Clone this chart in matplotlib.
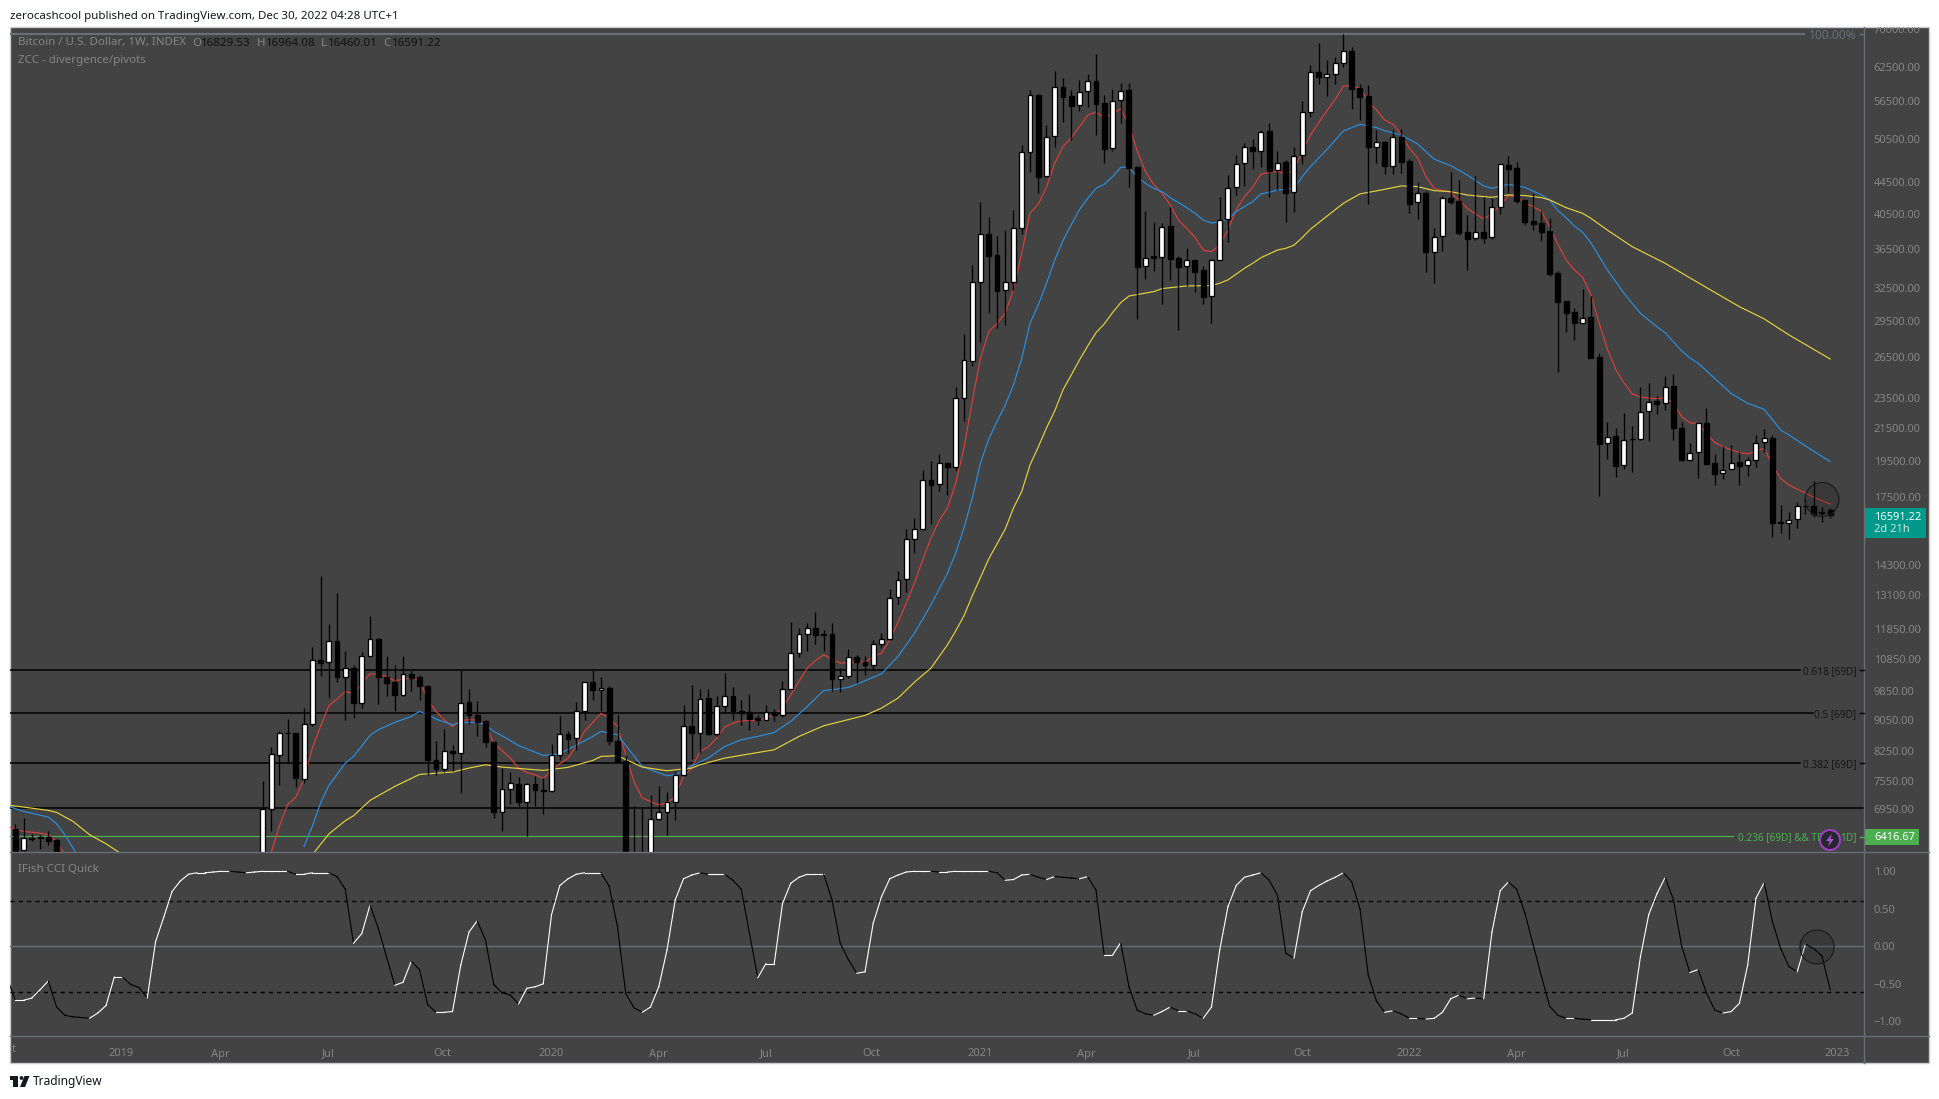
#!/usr/bin/env python3.12
"""BTC weekly candles with moving averages, fib levels and an IFish CCI pane."""

import matplotlib
matplotlib.use("Agg")
import matplotlib.pyplot as plt
from matplotlib.patches import Circle, Polygon, Rectangle
from matplotlib.ticker import FixedLocator, NullLocator
from matplotlib.transforms import Bbox
import numpy as np

NAN = np.nan
HIDDEN = [NAN] * 24  # bars 6..29 sit below the visible price range

OPEN = [6555, 6154, 6380, 6395, 6408, 6351] + HIDDEN + [
    5300, 6955, 8159, 8708, 8700, 7600, 8942, 10807, 10743, 11442,
    10275, 10554, 9516, 10936, 11510, 10265, 10125, 9743, 10367, 10275,
    10016, 8039, 7829, 8264, 8207, 9545, 9184, 9022, 8478, 6893,
    7379, 7488, 7100, 7488, 7364, 7335, 8159, 8682, 8580, 9293,
    10125, 9888, 9947, 8512, 8015, 5400, 5800, 5900, 6752, 6893,
    7100, 7690, 8890, 8708, 9657, 8682, 9432, 9714, 9293, 9265,
    9112, 9049, 9275, 9184, 9918, 11033, 11670, 11879, 11670, 11670,
    10214, 10306, 10904, 10743, 10647, 11330, 11499, 13019, 13731, 15461,
    15924, 18415, 18197, 19367, 19136, 23464, 26165, 33050, 38100, 35850,
    32280, 33050, 38780, 48550, 57530, 45250, 50950, 58960, 57360, 55790,
    58160, 60020, 56130, 49120, 56640, 58330, 46450, 34650, 35690, 35660,
    39010, 35510, 34650, 35310, 34270, 31710, 35350, 39830, 43770, 47000,
    49370, 48740, 51660, 46050, 47190, 43150, 48120, 54710, 61560, 60710,
    61300, 63180, 65530, 58680, 57360, 49320, 50100, 46560, 50750, 47330,
    41890, 43060, 36110, 37880, 42460, 42050, 38360, 37640, 38360, 37750,
    41260, 46770, 46350, 42170, 39630, 39390, 38480, 33940, 31240, 30240,
    29320, 29870, 26460, 20530, 20950, 19230, 20790, 20770, 22560, 23250,
    23110, 24290, 21470, 19510, 20000, 21790, 19340, 18780, 19000, 19400,
    19250, 19530, 20590, 20850, 16250, 16210, 16400, 17060, 17040, 16690,
    16829.53,
]
HIGH = [6660, 6772, 6452, 6446, 6522, 6364] + HIDDEN + [
    7562, 8354, 8768, 9085, 8720, 9376, 11230, 13868, 12032, 13188,
    11098, 10658, 11065, 12320, 11533, 10947, 10648, 10947, 10533, 10347,
    10030, 8512, 8811, 8412, 10481, 9927, 9581, 9058, 8495, 7852,
    7767, 7645, 7511, 7660, 7615, 8428, 9166, 8768, 9545, 10135,
    10481, 10275, 10016, 9193, 8151, 7010, 6975, 7256, 7452, 7306,
    7775, 9469, 10045, 9927, 9927, 9724, 10398, 9986, 9591, 9782,
    9175, 9469, 9358, 10165, 12091, 11879, 12056, 12467, 11821, 12056,
    10554, 11175, 10979, 10925, 11476, 11705, 13332, 14059, 15941, 16452,
    18968, 19500, 19906, 19424, 24240, 28380, 34790, 41880, 40065, 37910,
    38590, 40900, 49570, 58390, 57700, 52650, 61760, 60450, 58390, 60200,
    61200, 64860, 57530, 58500, 59520, 59520, 46640, 40830, 39510, 39430,
    41350, 35770, 36590, 35350, 34690, 35400, 42590, 45400, 48170, 49920,
    50550, 51870, 52900, 48790, 47460, 49270, 56520, 62900, 67040, 63800,
    64300, 68910, 66320, 59350, 59240, 51870, 50150, 51870, 52030, 47570,
    44480, 43350, 38820, 42680, 45810, 44750, 40340, 45260, 42550, 42430,
    46900, 48070, 47190, 42200, 42930, 40790, 39970, 34180, 31260, 30600,
    32360, 31740, 26790, 21880, 21470, 22430, 21610, 24230, 24570, 23620,
    25050, 25200, 21880, 20550, 21790, 22790, 19900, 20390, 20430, 19990,
    19700, 21040, 21430, 21040, 17100, 16740, 17260, 17390, 18340, 16990,
    16964.08,
]
LOW = [6136, 6136, 6332, 6184, 6258, 5500] + HIDDEN + [
    5200, 6510, 7459, 7968, 7415, 7504, 8900, 10296, 9647, 10115,
    9058, 9094, 9367, 10900, 9478, 9724, 9302, 9720, 9849, 9591,
    7698, 7683, 7751, 7790, 7285, 8951, 8640, 8346, 6765, 6510,
    7065, 7010, 6414, 7010, 6846, 7320, 8031, 8207, 8289, 9058,
    9610, 9302, 8396, 7984, 4800, 5100, 5700, 5800, 6740, 6446,
    6739, 7680, 8071, 8207, 8660, 8622, 9265, 9058, 8925, 8794,
    8908, 9040, 9013, 9121, 9910, 10893, 11109, 11342, 11109, 9849,
    9820, 10245, 10095, 10347, 10502, 11186, 11476, 12766, 13201, 14836,
    15860, 16178, 17803, 17594, 18980, 21900, 25808, 27730, 30210, 28900,
    29130, 32350, 38100, 45850, 43100, 45100, 49380, 53170, 50360, 54920,
    55450, 51150, 47090, 48780, 53020, 43870, 29680, 33400, 34210, 30990,
    33290, 28730, 32650, 32130, 31000, 29330, 35300, 37270, 42840, 44000,
    46220, 46540, 42590, 43430, 39550, 40750, 46900, 53950, 59400, 57420,
    59400, 62560, 55250, 53430, 41680, 47090, 45520, 45520, 45660, 40610,
    39870, 34070, 33010, 36250, 41680, 38020, 34300, 37460, 37130, 37570,
    40450, 43010, 41840, 39170, 38590, 37400, 33700, 25370, 28550, 27860,
    29210, 26400, 17580, 19580, 18590, 19030, 18880, 20750, 20670, 22390,
    22660, 20730, 19490, 19490, 18540, 19300, 18160, 18470, 18990, 18160,
    18650, 19150, 20000, 15570, 15720, 15480, 15960, 16650, 16520, 16270,
    16460.01,
]
CLOSE = [6148, 6376, 6370, 6390, 6332, 5600] + HIDDEN + [
    6955, 8183, 8708, 8700, 7614, 8942, 10807, 10700, 11420, 10265,
    10544, 9507, 10925, 11499, 10265, 10085, 9733, 10357, 10245, 9996,
    8031, 7821, 8248, 8199, 9507, 9175, 8987, 8470, 6887, 7379,
    7503, 7093, 7481, 7349, 7328, 8151, 8673, 8546, 9284, 10115,
    9878, 9937, 8495, 8007, 5400, 5800, 5900, 6752, 6887, 7093,
    7683, 8881, 8700, 9620, 8673, 9422, 9705, 9284, 9238, 9085,
    9040, 9256, 9175, 9908, 11022, 11659, 11868, 11624, 11624, 10205,
    10296, 10893, 10732, 10636, 11319, 11488, 13006, 13717, 15461, 15924,
    18415, 18127, 19367, 19117, 23464, 26244, 33050, 38100, 35770, 32250,
    33050, 38780, 48550, 57480, 45170, 50870, 58900, 57250, 55730, 58100,
    59900, 56070, 49070, 56580, 58150, 46400, 34620, 35550, 35550, 38970,
    35440, 34620, 35270, 34100, 31680, 35350, 39790, 43730, 46950, 49270,
    48690, 51610, 46000, 47090, 43100, 48070, 54710, 61500, 60710, 61300,
    63180, 65470, 58570, 57250, 49270, 50000, 46650, 50750, 47230, 41720,
    43010, 36180, 37840, 42380, 41920, 38250, 37570, 38320, 37680, 41260,
    46860, 46260, 42050, 39550, 39280, 38400, 33870, 31210, 30200, 29320,
    29760, 26430, 20510, 20930, 19210, 20750, 20770, 22540, 23220, 23090,
    24270, 21450, 19510, 19920, 21770, 19330, 18760, 18990, 19380, 19210,
    19510, 20560, 20870, 16230, 16210, 16380, 17070, 17040, 16650, 16770,
    16591.22,
]

# moving averages: two stretches each, the line leaves the pane in between
RED_EARLY_X = [-1, 0, 1, 3, 4, 5, 6]
RED_EARLY = [6607, 6555, 6510, 6478, 6446, 6320, 6075]
RED_X_START = 31
RED = [
    6106, 6607, 7044, 7206, 7585, 8330, 8881, 9441, 9629,
    9849, 9782, 10095, 10378, 10367, 10296, 10165, 10216, 10245, 10195,
    9610, 9284, 9058, 8881, 9040, 9058, 9049, 8925, 8453, 8272,
    8087, 7852, 7751, 7698, 7615, 7790, 7952, 8087, 8371, 8751,
    8987, 9229, 9112, 8881, 8167, 7548, 7185, 7114, 7045, 7079,
    7220, 7660, 7852, 8248, 8354, 8580, 8864, 8969, 9031, 9040,
    9040, 9103, 9193, 9376, 9753, 10145, 10554, 10796, 10979, 10839,
    10711, 10732, 10754, 10732, 10925, 11033, 11476, 12091, 12791, 13570,
    14546, 15506, 16340, 16946, 18250, 20240, 23240, 26400, 28560, 29270,
    30160, 32310, 36020, 40560, 41640, 43800, 47000, 49370, 50700, 52380,
    54200, 54730, 53710, 54520, 55180, 52650, 48780, 45850, 44140, 43010,
    41550, 39740, 38780, 37750, 36360, 36180, 36890, 38590, 40990, 42590,
    43770, 45520, 45760, 45900, 45520, 46000, 48690, 51110, 53020, 54950,
    56800, 59080, 59080, 58730, 56420, 55030, 53430, 52750, 51210, 49120,
    47770, 45170, 43650, 43350, 43140, 42170, 41150, 40450, 39890, 40450,
    41550, 42720, 42590, 41760, 41350, 40750, 38970, 36980, 35310, 34280,
    33540, 31830, 29270, 27130, 25550, 24550, 23760, 23530, 23460, 23420,
    23510, 23110, 22210, 21810, 21770, 21140, 20570, 20330, 20130, 19970,
    19890, 20030, 20230, 19250, 18500, 18140, 17920, 17730, 17490, 17320, 17150,
]

BLUE_EARLY_X = [-1, 1, 4, 5, 6, 7, 8]
BLUE_EARLY = [7024, 6907, 6792, 6660, 6446, 6196, 5960]
BLUE_X = [
    35, 36, 37, 38, 40, 41, 43, 44, 46, 48,
    49, 50, 51, 53, 54, 56, 57, 58, 59, 61,
    64, 66, 68, 70, 71, 73, 74, 76, 77, 79,
    80, 82, 84, 86, 88, 90, 92, 94, 96, 98,
    99, 101, 103, 105, 107, 109, 111, 113, 114, 115,
    116, 117, 118, 119, 120, 121, 122, 123, 124, 125,
    126, 127, 128, 129, 130, 131, 132, 133, 134, 135,
    136, 137, 138, 139, 140, 141, 142, 143, 144, 145,
    146, 147, 148, 149, 150, 151, 152, 153, 154, 155,
    156, 157, 159, 161, 163, 165, 166, 168, 170, 172,
    174, 176, 178, 179, 181, 183, 185, 186, 187, 188,
    189, 190, 191, 193, 195, 197, 199, 200, 202, 203,
    204, 206, 208, 210, 212, 214, 215, 217, 220,
]
BLUE = [
    6227, 6607, 7079, 7452, 7968, 8127, 8648, 8794, 8987, 9148,
    9284, 9193, 9076, 8925, 8987, 8987, 8925, 8751, 8640, 8395,
    8151, 8191, 8404, 8622, 8751, 8665, 8396, 7890, 7813, 7675,
    7698, 7905, 8087, 8371, 8537, 8622, 8725, 9013, 9422, 9878,
    9898, 9967, 10165, 10378, 10925, 11705, 12730, 13977, 14836, 15980,
    17450, 19370, 20780, 21900, 22980, 24400, 26400, 29270, 30900, 32940,
    35310, 37390, 39170, 40990, 42380, 43650, 44170, 45170, 46450, 46450,
    45170, 44290, 43650, 43220, 42470, 41840, 41230, 40540, 39740, 39390,
    39550, 39830, 40750, 41350, 41970, 42930, 43140, 43430, 43520, 43650,
    45170, 46540, 48980, 51720, 52750, 52240, 51760, 51110, 49760, 47570,
    46680, 45400, 43960, 43650, 44170, 43770, 42800, 42170, 40880, 40000,
    39050, 38310, 37150, 34270, 32000, 30150, 28980, 28470, 26980, 26420,
    26010, 24880, 23790, 23100, 22700, 21350, 21040, 20370, 19440,
]

YELLOW_EARLY_X = [-1, 1, 4, 5, 7, 9, 11, 13, 15]
YELLOW_EARLY = [7038, 6996, 6927, 6887, 6706, 6446, 6276, 6075, 5850]
YELLOW_X = [
    36, 38, 40, 41, 43, 46, 49, 53, 55, 57,
    59, 64, 67, 70, 71, 73, 76, 79, 82, 83,
    86, 92, 95, 98, 103, 105, 107, 109, 111, 113,
    114, 115, 116, 117, 118, 119, 120, 121, 122, 123,
    124, 125, 126, 127, 128, 129, 130, 131, 132, 133,
    134, 135, 138, 139, 142, 145, 146, 147, 149, 150,
    151, 153, 154, 155, 156, 157, 159, 161, 163, 166,
    168, 170, 172, 174, 176, 178, 179, 181, 183, 185,
    186, 188, 190, 191, 193, 196, 200, 204, 209, 212,
    215, 220,
]
YELLOW = [
    6075, 6459, 6720, 6819, 7135, 7437, 7705, 7760, 7852, 7929,
    7874, 7798, 7868, 8031, 8127, 8143, 7875, 7790, 7852, 7929,
    8087, 8289, 8622, 8899, 9175, 9376, 9657, 10125, 10554, 11308,
    11785, 12321, 13070, 13800, 14580, 15240, 15925, 16950, 17800, 19250,
    20300, 21480, 22590, 24040, 25120, 26270, 27380, 28470, 29220, 30210,
    31120, 31740, 32150, 32440, 32700, 32730, 32960, 33290, 34450, 34960,
    35550, 36360, 36550, 36890, 37720, 38670, 40200, 41760, 42930, 43520,
    43960, 43870, 43350, 43220, 42800, 42590, 42500, 42800, 42720, 42470,
    42170, 41220, 40530, 39940, 38570, 36730, 34960, 33010, 30750, 29660,
    28290, 26340,
]

# IFish CCI, starting one bar left of the first candle
CCI = [
    -.42, -.72, -.72, -.69, -.58, -.46, -.81, -.92, -.94, -.95,
    -.96, -.89, -.79, -.41, -.41, -.51, -.55, -.69, .06, .39,
    .73, .87, .96, .98, .98, .99, 1.0, 1.0, .99, .98,
    .99, 1.0, 1.0, 1.0, 1.0, .96, .96, .98, .98, .98,
    .93, .76, .04, .17, .55, .24, -.14, -.52, -.48, -.20,
    -.31, -.78, -.88, -.88, -.87, -.25, .19, .34, .08, -.51,
    -.62, -.65, -.77, -.56, -.54, -.50, .42, .81, .90, .96,
    .98, .98, .98, .80, .26, -.63, -.82, -.88, -.81, -.54,
    -.05, .62, .90, .95, .98, .96, .96, .96, .88, .76,
    .17, -.42, -.23, -.23, .57, .84, .92, .96, .96, .96,
    .62, .04, -.18, -.36, -.34, .31, .66, .90, .95,
    .99, 1.0, 1.0, 1.0, .99, .99, 1.0, 1.0, 1.0, 1.0,
    1.0, .98, .88, .89, .95, .96, .92, .89, .93, .92,
    .91, .90, .93,
    .75, -.12, -.12, .05, -.54, -.85, -.90, -.92, -.87, -.81,
    -.86, -.86, -.90, -.96, -.81, -.05, .53, .81, .92, .95,
    .98, .88, .68, -.09, -.16, .46, .74, .81, .87, .92,
    .98, .86, .50, -.38, -.73, -.88, -.86, -.90, -.96, -.96,
    -.97, -.96, -.88, -.70, -.65, -.70, -.69, -.70, .19, .74,
    .86, .76, .44, .02, -.40, -.80, -.92, -.96, -.96, -.97,
    -.98, -.98, -.98, -.98, -.96, -.89, -.14, .42, .70, .92,
    .62, .00, -.35, -.31, -.62, -.85, -.89, -.87, -.76, -.25,
    .64, .85, .33, -.03, -.27, -.34, .03, -.03, -.13, -.58,
]

PRICE_TICKS = [70000, 62500, 56500, 50500, 44500, 40500, 36500, 32500, 29500, 26500,
               23500, 21500, 19500, 17500, 14300, 13100, 11850, 10850, 9850, 9050,
               8250, 7550, 6950]
CCI_TICKS = [1.0, 0.5, 0.0, -0.5, -1.0]
CCI_TICK_LABELS = ["1.00", "0.50", "0.00", "\u22120.50", "\u22121.00"]
TIME_TICKS = [12.8, 24.8, 37.9, 51.8, 64.9, 77.9, 91.0, 103.8, 116.9, 129.8, 142.9,
              156.0, 168.9, 182.0, 194.9, 208.0, 220.8]
TIME_LABELS = ["2019", "Apr", "Jul", "Oct", "2020", "Apr", "Jul", "Oct", "2021", "Apr",
               "Jul", "Oct", "2022", "Apr", "Jul", "Oct", "2023"]

FIB_LEVELS = [10487, 9237, 7964, 6973]
FIB_ENDS = [216.4, 217.9, 216.4, 224.2]
FIB_LABELS = ["0.618 [69D]", "0.5 [69D]", "0.382 [69D]", ""]
TOP_LEVEL = 68900
GREEN_LEVEL = 6416.67

BG = "#434343"
GRID = "#6b6e78"
TEXT_GREY = "#858585"
FONT = "Noto Sans"
TEXT_SIZE = 8.3
TICK_SIZE = 8.0
FIB_SIZE = 7.2
W, H = 1940, 1099
LEFT, AXIS_X, RIGHT = 10, 1864, 1929
TOP, PANE_Y, TIME_Y, BOTTOM = 27, 852, 1036, 1063

plt.rcParams["font.family"] = [FONT, "DejaVu Sans"]


def px_axes(fig, x0, y0, x1, y1, **kwargs):
    return fig.add_axes([x0 / W, 1 - y1 / H, (x1 - x0) / W, (y1 - y0) / H], **kwargs)


def draw_candles(ax, x):
    opens, highs = np.array(OPEN, float), np.array(HIGH, float)
    lows, closes = np.array(LOW, float), np.array(CLOSE, float)
    ax.vlines(x, lows, highs, color="black", linewidth=0.95, zorder=3)
    up = closes >= opens
    tops, bottoms = np.maximum(opens, closes), np.minimum(opens, closes)
    ax.bar(x, tops - bottoms, bottom=bottoms, width=0.6,
           color=np.where(up, "white", "black").tolist(),
           edgecolor="black", linewidth=0.95, zorder=4)


def draw_price_pane(ax):
    x = np.arange(len(CLOSE))
    for level, end, label in zip(FIB_LEVELS, FIB_ENDS, FIB_LABELS):
        ax.plot([-1, end], [level, level], color="black", linewidth=1.1, zorder=1)
        if label:
            ax.text(223.2, level, label, color="#161616", fontsize=FIB_SIZE,
                    ha="right", va="center_baseline")
    ax.plot([-1, 216.8], [TOP_LEVEL, TOP_LEVEL], color=GRID, linewidth=1.6, zorder=1)
    ax.text(223.2, TOP_LEVEL, "100.00%", color=GRID, fontsize=8.6, ha="right",
            va="center_baseline")
    ax.plot([-1, 208.2], [GREEN_LEVEL, GREEN_LEVEL], color="#4caf50", linewidth=0.9, zorder=1)
    ax.text(208.8, GREEN_LEVEL, "0.236 [69D] && TD", color="#4caf50", fontsize=FIB_SIZE,
            ha="left", va="center_baseline")
    ax.text(223.2, GREEN_LEVEL, "1D]", color="#4caf50", fontsize=FIB_SIZE, ha="right",
            va="center_baseline")

    ma_lines = [
        (RED_EARLY_X, RED_EARLY, "#db3f3a"),
        (np.arange(RED_X_START, RED_X_START + len(RED)), RED, "#db3f3a"),
        (BLUE_EARLY_X, BLUE_EARLY, "#2a8fe0"),
        (BLUE_X, BLUE, "#2a8fe0"),
        (YELLOW_EARLY_X, YELLOW_EARLY, "#e3d23c"),
        (YELLOW_X, YELLOW, "#e3d23c"),
    ]
    for line_x, line_y, color in ma_lines:
        ax.plot(line_x, line_y, color=color, linewidth=0.85, zorder=2)

    draw_candles(ax, x)

    ax.set_yscale("log")
    ax.set_ylim(6125, 70350)
    ax.yaxis.set_major_locator(FixedLocator(PRICE_TICKS))
    ax.yaxis.set_minor_locator(NullLocator())
    ax.set_yticklabels([f"{tick:.2f}" for tick in PRICE_TICKS])
    ax.set_xticks([])


def draw_cci_pane(ax):
    x = np.arange(len(CCI)) - 1
    ax.axhline(0.0, color=GRID, linewidth=1.0, zorder=1)
    for level in (0.61, -0.61):
        ax.axhline(level, color="black", linewidth=1.0, linestyle=(0, (3, 3)), zorder=1)
    values = np.array(CCI)
    for i in range(len(values) - 1):
        color = "white" if values[i + 1] >= values[i] else "black"
        ax.plot(x[i:i + 2], values[i:i + 2], color=color, linewidth=0.8, zorder=2)
    ax.set_ylim(-1.196, 1.257)
    ax.set_yticks(CCI_TICKS)
    ax.set_yticklabels(CCI_TICK_LABELS)
    ax.set_xticks(TIME_TICKS)
    ax.set_xticklabels(TIME_LABELS)
    for label in ax.get_xticklabels():
        if label.get_text().isdigit():
            label.set_fontweight("bold")
            label.set_color("#929292")


def draw_overlay(ov):
    # pane furniture, price tags and hand-drawn marks, in pixel coordinates
    for x0, y0, x1, y1 in [(AXIS_X, TOP, AXIS_X, BOTTOM), (LEFT, PANE_Y, RIGHT, PANE_Y),
                           (LEFT, TIME_Y, RIGHT, TIME_Y)]:
        ov.plot([x0, x1], [y0, y1], color=GRID, linewidth=1.0)
    for y in [670.3, 713.3, 763.3, 837.3, 33.5]:
        color = "#4caf50" if y == 837.3 else (GRID if y == 33.5 else "black")
        ov.plot([1860, AXIS_X], [y, y], color=color, linewidth=1.0)

    ov.add_patch(Rectangle((AXIS_X, 508), 62, 30, facecolor="#00998a", edgecolor="none"))
    ov.text(1874, 517.5, "16591.22", color="white", fontsize=TICK_SIZE, va="center")
    ov.text(1874, 530, "2d 21h", color="#cfe9e4", fontsize=TICK_SIZE, va="center")
    ov.add_patch(Rectangle((AXIS_X, 829), 55, 16, facecolor="#4caf50", edgecolor="none"))
    ov.text(1874, 837.5, "6416.67", color="white", fontsize=TICK_SIZE, va="center")

    for center in [(1822, 499.5), (1817, 947)]:
        ov.add_patch(Circle(center, 17, facecolor=(0, 0, 0, 0.14), edgecolor="#1c1c1c",
                            linewidth=0.9, zorder=6))

    ov.add_patch(Circle((1830, 840), 10, facecolor="#26262e", edgecolor="#9c3fc0",
                        linewidth=1.5, zorder=7))
    ov.add_patch(Polygon([(1832, 833.5), (1826, 841), (1829.5, 841), (1828, 846.5),
                          (1834, 839), (1830.5, 839)], facecolor="#a94fd0",
                         edgecolor="none", zorder=8))

    ov.text(10, 16.5, "zerocashcool published on TradingView.com, Dec 30, 2022 04:28 UTC+1",
            color="#131722", fontsize=TEXT_SIZE, va="center")
    ov.text(18, 43, "Bitcoin / U.S. Dollar, 1W, INDEX", color=TEXT_GREY, fontsize=TEXT_SIZE,
            va="center")
    for x, letter, value in [(192, "O", "16829.53"), (257, "H", "16964.08"),
                             (321, "L", "16460.01"), (383, "C", "16591.22")]:
        ov.text(x, 43, letter, color=TEXT_GREY, fontsize=TEXT_SIZE, va="center")
        ov.text(x + (9 if letter != "L" else 7), 43, value, color="#111111",
                fontsize=TEXT_SIZE, va="center")
    ov.text(18, 60.5, "ZCC - divergence/pivots", color=TEXT_GREY, fontsize=TEXT_SIZE, va="center")
    ov.text(18, 869, "IFish CCI Quick", color=TEXT_GREY, fontsize=TEXT_SIZE, va="center")

    # TradingView logo and wordmark
    ov.add_patch(Rectangle((10, 1076), 8.5, 3.6, facecolor="#131722"))
    ov.add_patch(Rectangle((13, 1076), 5.5, 11, facecolor="#131722"))
    ov.add_patch(Circle((21.5, 1078), 1.9, facecolor="#131722"))
    ov.add_patch(Polygon([(24.5, 1076), (29.5, 1076), (25, 1087), (20, 1087)], facecolor="#131722"))
    ov.text(33, 1081, "TradingView", color="#131722", fontsize=8.6, va="center")


def main():
    fig = plt.figure(figsize=(W / 100, H / 100), dpi=100, facecolor="white")

    bg = px_axes(fig, 0, 0, W, H, zorder=0)
    bg.set_xlim(0, W)
    bg.set_ylim(H, 0)
    bg.axis("off")
    bg.add_patch(Rectangle((LEFT, TOP), RIGHT - LEFT, BOTTOM - TOP, facecolor=BG,
                           edgecolor="#c9cbd1", linewidth=1.0))

    x_limits = (-0.642, 224.1)
    price_ax = px_axes(fig, LEFT, TOP, AXIS_X, PANE_Y, zorder=1, facecolor="none")
    cci_ax = px_axes(fig, LEFT, PANE_Y, AXIS_X, TIME_Y, zorder=1, facecolor="none")
    draw_price_pane(price_ax)
    draw_cci_pane(cci_ax)
    for ax in (price_ax, cci_ax):
        ax.set_xlim(*x_limits)
        ax.yaxis.tick_right()
        ax.tick_params(axis="y", which="major", length=0, pad=7, labelsize=TICK_SIZE, labelcolor=TEXT_GREY)
        ax.tick_params(axis="x", length=0, pad=9, labelsize=TICK_SIZE, labelcolor=TEXT_GREY)
        for spine in ax.spines.values():
            spine.set_visible(False)

    # clipped labels at the pane edges, as in the reference
    panel_box = Bbox.from_extents(LEFT, H - BOTTOM, RIGHT, H - TOP)
    for label in price_ax.get_yticklabels():
        label.set_clip_box(panel_box)
        label.set_clip_on(True)
    edge_label = cci_ax.text(-0.9, -0.075, "Oct", color=TEXT_GREY, fontsize=TICK_SIZE, ha="center",
                             va="center", transform=cci_ax.get_xaxis_transform())
    edge_label.set_clip_box(panel_box)
    edge_label.set_clip_on(True)
    cci_ax.set_xlim(*x_limits)

    ov = px_axes(fig, 0, 0, W, H, zorder=5, facecolor="none")
    ov.set_xlim(0, W)
    ov.set_ylim(H, 0)
    ov.axis("off")
    draw_overlay(ov)

    fig.savefig("out.png", dpi=100, facecolor="white")


if __name__ == "__main__":
    main()
